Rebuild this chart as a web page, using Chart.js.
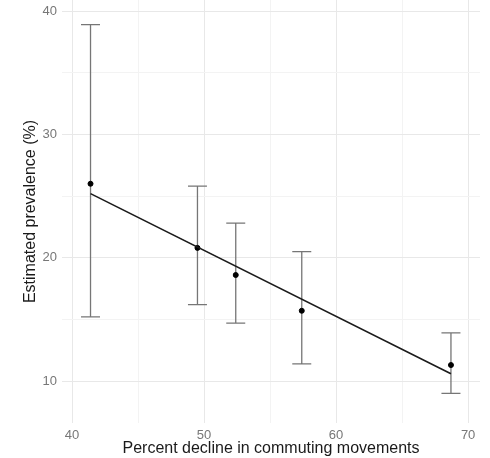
<!DOCTYPE html>
<html>
<head>
<meta charset="utf-8">
<script src="https://cdn.jsdelivr.net/npm/chart.js@4/dist/chart.umd.min.js"></script>
<style>
  html, body { margin: 0; padding: 0; background: #fff; }
  #wrap { width: 490px; height: 458px; }
</style>
</head>
<body>
<div id="wrap"><canvas id="chart" width="490" height="458"></canvas></div>
<script>
// Données
const declinePct = [41.4, 49.5, 52.4, 57.4, 68.7];
const prevalence = [26.0, 20.8, 18.6, 15.7, 11.3];
const ciLower = [15.2, 16.2, 14.7, 11.4, 9.0];
const ciUpper = [38.9, 25.8, 22.8, 20.5, 13.9];

// Droite de régression (extrémités)
const fitX = [41.4, 68.7];
const fitY = [25.2, 10.6];

// Graduations
const xTicks = [40, 50, 60, 70];
const yTicks = [10, 20, 30, 40];

// Ajoute les graduations secondaires (lignes de grille plus claires)
function withMinor(major) {
    const all = [];
    major.forEach((v, i) => {
        all.push({ value: v });
        if (i < major.length - 1) all.push({ value: (v + major[i + 1]) / 2 });
    });
    return all;
}

// Plugin pour les barres d'erreur
const errorBars = {
    id: 'errorBars',
    beforeDatasetsDraw(chart) {
        const { ctx, scales: { x, y } } = chart;
        ctx.save();
        ctx.strokeStyle = '#767676';
        ctx.lineWidth = 1.3;
        declinePct.forEach((d, i) => {
            const px = x.getPixelForValue(d);
            const top = y.getPixelForValue(ciUpper[i]);
            const bot = y.getPixelForValue(ciLower[i]);
            ctx.beginPath();
            ctx.moveTo(px, top); ctx.lineTo(px, bot);
            ctx.moveTo(px - 9.5, top); ctx.lineTo(px + 9.5, top);
            ctx.moveTo(px - 9.5, bot); ctx.lineTo(px + 9.5, bot);
            ctx.stroke();
        });
        ctx.restore();
    }
};

const gridColor = ctx => (ctx.tick && ctx.tick.value % 10 === 0) ? '#e8e8e8' : '#f3f3f3';
const tickLabel = v => (v % 10 === 0 ? v : '');

new Chart(document.getElementById('chart'), {
    type: 'scatter',
    data: {
        datasets: [
            {
                type: 'line',
                data: fitX.map((v, i) => ({ x: v, y: fitY[i] })),
                borderColor: '#1a1a1a',
                borderWidth: 1.6,
                pointRadius: 0,
                fill: false
            },
            {
                data: declinePct.map((v, i) => ({ x: v, y: prevalence[i] })),
                backgroundColor: '#000',
                borderColor: '#000',
                pointRadius: 2.5
            }
        ]
    },
    options: {
        responsive: false,
        animation: false,
        layout: { autoPadding: false, padding: { top: 0, right: 10, left: 0, bottom: 0 } },
        plugins: {
            legend: { display: false },
            tooltip: { enabled: false }
        },
        scales: {
            x: {
                type: 'linear',
                min: 39.24,
                max: 70.9,
                afterBuildTicks: s => { s.ticks = withMinor(xTicks); },
                afterFit: s => { s.height = 35; s.paddingLeft = 0; s.paddingRight = 0; },
                border: { display: false },
                grid: { color: gridColor, drawTicks: false },
                ticks: {
                    callback: tickLabel,
                    color: '#777',
                    padding: 5,
                    maxRotation: 0,
                    font: { family: 'Liberation Sans', size: 13 }
                },
                title: {
                    display: true,
                    text: 'Percent decline in commuting movements',
                    color: '#1a1a1a',
                    padding: { top: 0, bottom: 0 },
                    font: { family: 'Liberation Sans', size: 16 }
                }
            },
            y: {
                type: 'linear',
                min: 6.6,
                max: 40.9,
                afterBuildTicks: s => { s.ticks = withMinor(yTicks); },
                afterFit: s => { s.width = 62; s.paddingTop = 0; s.paddingBottom = 0; },
                border: { display: false },
                grid: { color: gridColor, drawTicks: false },
                ticks: {
                    callback: tickLabel,
                    color: '#777',
                    padding: 5,
                    font: { family: 'Liberation Sans', size: 13 }
                },
                title: {
                    display: true,
                    text: 'Estimated prevalence (%)',
                    color: '#1a1a1a',
                    padding: { top: 21, bottom: 0 },
                    font: { family: 'Liberation Sans', size: 16 }
                }
            }
        }
    },
    plugins: [errorBars]
});
</script>
</body>
</html>
